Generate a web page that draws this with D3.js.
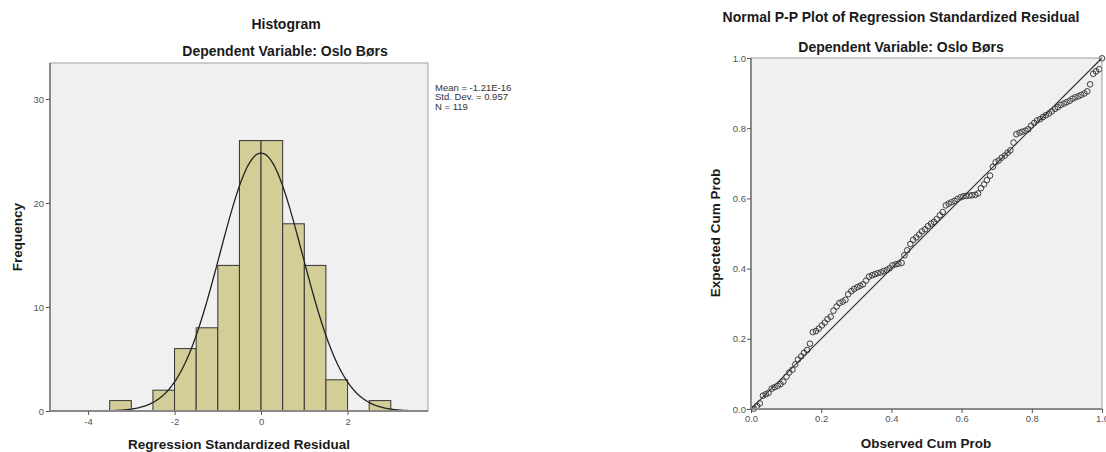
<!DOCTYPE html>
<html>
<head>
<meta charset="utf-8">
<script src="https://cdn.jsdelivr.net/npm/d3@7"></script>
<style>
  body { margin: 0; background: #fff; }
  text { font-family: "Liberation Sans", Arial, sans-serif; }
</style>
</head>
<body>
<script>
// histogram data (bin start, count), bin width 0.5
var binStarts = [-3.5, -2.5, -2, -1.5, -1, -0.5, 0, 0.5, 1, 1.5, 2.5];
var binCounts = [1, 2, 6, 8, 14, 26, 26, 18, 14, 3, 1];
var histXTicks = [-4, -2, 0, 2];
var histYTicks = [0, 10, 20, 30];
var statMean = -1.21e-16, statSd = 0.957, statN = 119;

// P-P plot data
var observedCum = [0.008,0.017,0.025,0.034,0.042,0.050,0.059,0.067,0.076,0.084,
  0.092,0.101,0.109,0.118,0.126,0.134,0.143,0.151,0.160,0.168,
  0.176,0.185,0.193,0.202,0.210,0.218,0.227,0.235,0.244,0.252,
  0.261,0.269,0.277,0.286,0.294,0.303,0.311,0.319,0.328,0.336,
  0.345,0.353,0.361,0.370,0.378,0.387,0.395,0.403,0.412,0.420,
  0.429,0.437,0.445,0.454,0.462,0.471,0.479,0.487,0.496,0.504,
  0.513,0.521,0.529,0.538,0.546,0.555,0.563,0.571,0.580,0.588,
  0.597,0.605,0.613,0.622,0.630,0.639,0.647,0.655,0.664,0.672,
  0.681,0.689,0.697,0.706,0.714,0.723,0.731,0.739,0.748,0.756,
  0.765,0.773,0.782,0.790,0.798,0.807,0.815,0.824,0.832,0.840,
  0.849,0.857,0.866,0.874,0.882,0.891,0.899,0.908,0.916,0.924,
  0.933,0.941,0.950,0.958,0.966,0.975,0.983,0.992,1.000];
var expectedCum = [0.001,0.009,0.016,0.038,0.042,0.046,0.058,0.062,0.066,0.071,
  0.078,0.092,0.104,0.112,0.127,0.141,0.150,0.160,0.168,0.186,
  0.219,0.222,0.229,0.238,0.246,0.256,0.263,0.280,0.292,0.302,
  0.306,0.311,0.327,0.336,0.342,0.347,0.351,0.355,0.366,0.377,
  0.381,0.384,0.387,0.389,0.393,0.396,0.401,0.409,0.412,0.414,
  0.416,0.438,0.452,0.470,0.482,0.489,0.497,0.506,0.512,0.521,
  0.528,0.533,0.541,0.552,0.561,0.580,0.585,0.589,0.593,0.598,
  0.603,0.606,0.607,0.608,0.609,0.610,0.614,0.629,0.640,0.652,
  0.665,0.690,0.703,0.708,0.716,0.722,0.730,0.737,0.759,0.783,
  0.787,0.790,0.793,0.797,0.807,0.815,0.822,0.826,0.832,0.837,
  0.842,0.848,0.855,0.860,0.866,0.870,0.874,0.878,0.884,0.888,
  0.891,0.895,0.899,0.905,0.925,0.955,0.962,0.968,0.999];
var ppTicks = [0, 0.2, 0.4, 0.6, 0.8, 1.0];

var svg = d3.select("body")
            .append("svg")
            .attr("width", 1106)
            .attr("height", 452);

var frameColor = "#8a8a8a";
var tickColor = "#555";

function styleAxis(g) {
  g.select(".domain").remove();
  g.selectAll(".tick line").attr("stroke", tickColor);
  g.selectAll(".tick text").attr("fill", "#555").style("font-size", "9.5px")
    .style("font-family", "'Liberation Sans', Arial, sans-serif");
}

function frame(x0, y0, x1, y1) {
  svg.append("rect").attr("x", x0).attr("y", y0)
     .attr("width", x1 - x0).attr("height", y1 - y0)
     .attr("fill", "#f0f0f0");
}
function border(x0, y0, x1, y1) {
  svg.append("rect").attr("x", x0).attr("y", y0)
     .attr("width", x1 - x0).attr("height", y1 - y0)
     .attr("fill", "none").attr("stroke", "#a0a0a0").attr("stroke-width", 1);
  svg.append("line").attr("x1", x0).attr("x2", x0).attr("y1", y0).attr("y2", y1)
     .attr("stroke", frameColor).attr("stroke-width", 2);
  svg.append("line").attr("x1", x0).attr("x2", x1).attr("y1", y1).attr("y2", y1)
     .attr("stroke", frameColor).attr("stroke-width", 2);
}

// ---------- Histogram ----------
var hx = d3.scaleLinear().domain([-4.88, 3.86]).range([50, 428]);
var hy = d3.scaleLinear().domain([0, 33.46]).range([411, 63]);

frame(50, 63, 428, 411);

svg.selectAll("rect.bar")
   .data(binStarts)
   .enter().append("rect")
   .attr("class", "bar")
   .attr("x", d => hx(d))
   .attr("width", d => hx(d + 0.5) - hx(d))
   .attr("y", (d, i) => hy(binCounts[i]))
   .attr("height", (d, i) => hy(0) - hy(binCounts[i]))
   .attr("fill", "#d3ce97")
   .attr("stroke", "#333")
   .attr("stroke-width", 1);

// fitted normal curve from the legend's mean / sd / N
var curveX = d3.range(-4.88, 3.861, 0.02);
var curve = d3.line()
  .x(d => hx(d))
  .y(d => hy(statN * 0.5 * Math.exp(-0.5 * Math.pow((d - statMean) / statSd, 2)) / (statSd * Math.sqrt(2 * Math.PI))))
  .curve(d3.curveBasis);
svg.append("path").attr("d", curve(curveX))
   .attr("fill", "none").attr("stroke", "#222").attr("stroke-width", 1.3);

border(50, 63, 428, 411);

svg.append("g").attr("transform", "translate(50,0)")
   .call(d3.axisLeft(hy).tickValues(histYTicks).tickSize(4).tickPadding(2).tickFormat(d3.format("d")))
   .call(styleAxis);
svg.append("g").attr("transform", "translate(0,411)")
   .call(d3.axisBottom(hx).tickValues(histXTicks).tickSize(4).tickPadding(3).tickFormat(d => d < 0 ? "-" + Math.abs(d) : d))
   .call(styleAxis);

svg.append("text").attr("x", 286).attr("y", 29).attr("text-anchor", "middle")
   .style("font-size", "14px").style("font-weight", "bold").attr("fill", "#1a1a1a").text("Histogram");
svg.append("text").attr("x", 285).attr("y", 56).attr("text-anchor", "middle")
   .style("font-size", "14px").style("font-weight", "bold").attr("fill", "#1a1a1a").text("Dependent Variable: Oslo Børs");
svg.append("text").attr("x", 239).attr("y", 449).attr("text-anchor", "middle")
   .style("font-size", "13.5px").style("font-weight", "bold").attr("fill", "#1a1a1a").text("Regression Standardized Residual");
svg.append("text").attr("transform", "translate(22,237) rotate(-90)").attr("text-anchor", "middle")
   .style("font-size", "13.5px").style("font-weight", "bold").attr("fill", "#1a1a1a").text("Frequency");

var legendLines = ["Mean = -1.21E-16", "Std. Dev. = 0.957", "N = 119"];
svg.selectAll("text.legend").data(legendLines).enter().append("text")
   .attr("class", "legend").attr("x", 435).attr("y", (d, i) => 91 + i * 9.3)
   .style("font-size", "9.5px").attr("fill", "#333").text(d => d);

// ---------- P-P plot ----------
var px = d3.scaleLinear().domain([0, 1]).range([751, 1102]);
var py = d3.scaleLinear().domain([0, 1]).range([409, 58]);

frame(751, 58, 1102, 409);

svg.append("line").attr("x1", px(0)).attr("y1", py(0)).attr("x2", px(1)).attr("y2", py(1))
   .attr("stroke", "#333").attr("stroke-width", 1.2);

svg.selectAll("circle.pp")
   .data(observedCum)
   .enter().append("circle")
   .attr("class", "pp")
   .attr("cx", d => px(d))
   .attr("cy", (d, i) => py(expectedCum[i]))
   .attr("r", 2.8)
   .attr("fill", "none")
   .attr("stroke", "#3a3a3a")
   .attr("stroke-width", 1);

border(751, 58, 1102, 409);

svg.append("g").attr("transform", "translate(751,0)")
   .call(d3.axisLeft(py).tickValues(ppTicks).tickSize(4).tickPadding(1).tickFormat(d3.format(".1f")))
   .call(styleAxis);
svg.append("g").attr("transform", "translate(0,409)")
   .call(d3.axisBottom(px).tickValues(ppTicks).tickSize(4).tickPadding(2).tickFormat(d3.format(".1f")))
   .call(styleAxis);

svg.append("text").attr("x", 901).attr("y", 22).attr("text-anchor", "middle")
   .style("font-size", "14px").style("font-weight", "bold").attr("fill", "#1a1a1a").text("Normal P-P Plot of Regression Standardized Residual");
svg.append("text").attr("x", 901).attr("y", 52).attr("text-anchor", "middle")
   .style("font-size", "14px").style("font-weight", "bold").attr("fill", "#1a1a1a").text("Dependent Variable: Oslo Børs");
svg.append("text").attr("x", 926).attr("y", 448).attr("text-anchor", "middle")
   .style("font-size", "13.5px").style("font-weight", "bold").attr("fill", "#1a1a1a").text("Observed Cum Prob");
svg.append("text").attr("transform", "translate(720,233) rotate(-90)").attr("text-anchor", "middle")
   .style("font-size", "13.5px").style("font-weight", "bold").attr("fill", "#1a1a1a").text("Expected Cum Prob");
</script>
</body>
</html>
